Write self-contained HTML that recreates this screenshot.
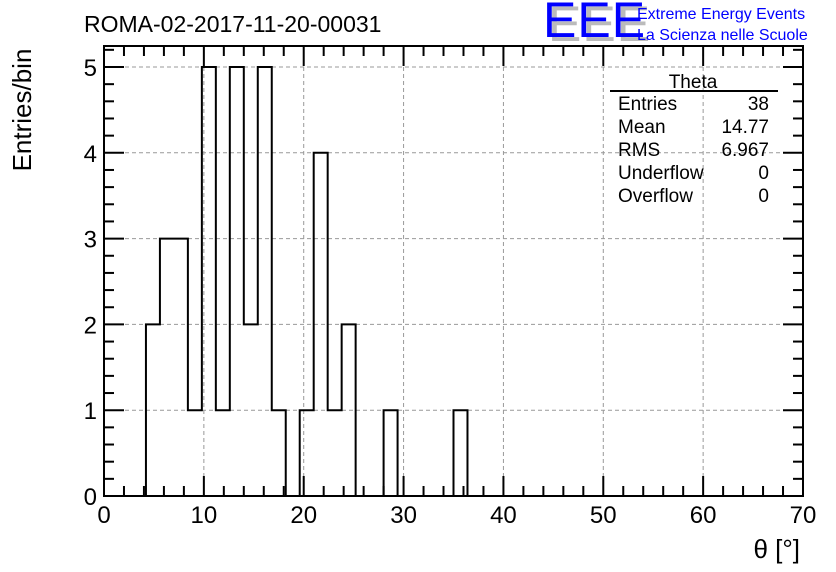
<!DOCTYPE html>
<html><head><meta charset="utf-8"><style>
body{margin:0;background:#fff}
svg{display:block;font-family:"Liberation Sans",sans-serif}
</style></head><body>
<svg id="c" width="836" height="572">
<text x="84" y="32" font-size="23">ROMA-02-2017-11-20-00031</text>
<g>
<text x="548" y="41" font-size="50" fill="#bbb" letter-spacing="1">EEE</text>
<text x="543" y="37" font-size="50" fill="#0000ff" letter-spacing="1">EEE</text>
<text x="637" y="19" font-size="16" fill="#0000ff">Extreme Energy Events</text>
<text x="637" y="40" font-size="16" fill="#0000ff">La Scienza nelle Scuole</text>
</g>
<text transform="translate(31,110) rotate(-90)" text-anchor="middle" font-size="26">Entries/bin</text>
<text x="800" y="558" text-anchor="end" font-size="26">θ [°]</text>
<g id="grid"></g><g id="hist"></g><g id="axes"></g>
<g font-size="19">
<text x="693" y="88" text-anchor="middle">Theta</text>
<line x1="610" y1="91" x2="778" y2="91" stroke="#000" stroke-width="2"/>
<text x="618" y="110">Entries</text><text x="769" y="110" text-anchor="end">38</text>
<text x="618" y="133">Mean</text><text x="769" y="133" text-anchor="end">14.77</text>
<text x="618" y="156">RMS</text><text x="769" y="156" text-anchor="end">6.967</text>
<text x="618" y="179">Underflow</text><text x="769" y="179" text-anchor="end">0</text>
<text x="618" y="202">Overflow</text><text x="769" y="202" text-anchor="end">0</text>
</g>
</svg>
<script>
const binWidth = 1.4;
const binStart = 4.2;
const counts = [2,3,3,1,5,1,5,2,5,1,0,1,4,1,2,0,0,1,0,0,0,0,1];
const xTicks = [0,10,20,30,40,50,60,70];
const yTicks = [0,1,2,3,4,5];
const NS="http://www.w3.org/2000/svg";
const L=104,R=803,B=496,T=46;
const xs=v=>L+(v-0)/70*(R-L);
const ys=v=>B-v*85.8;
function mk(t,a,p){const e=document.createElementNS(NS,t);for(const k in a)e.setAttribute(k,a[k]);p.appendChild(e);return e;}
const grid=document.getElementById('grid'),axes=document.getElementById('axes'),hist=document.getElementById('hist');
xTicks.forEach(v=>{if(v>0&&v<70){const g=mk('line',{x1:xs(v),x2:xs(v),y1:T,y2:B,stroke:'#999','stroke-dasharray':'4,3'},grid);}});
yTicks.forEach(v=>{if(v>0){const g=mk('line',{x1:L,x2:R,y1:ys(v),y2:ys(v),stroke:'#999','stroke-dasharray':'4,3'},grid);}});
let d='M'+xs(binStart)+','+B;
counts.forEach((c,i)=>{const x0=xs(binStart+i*binWidth),x1=xs(binStart+(i+1)*binWidth);d+=' L'+x0+','+ys(c)+' L'+x1+','+ys(c);});
d+=' L'+xs(binStart+counts.length*binWidth)+','+B;
const p=mk('path',{d:d,fill:'none',stroke:'#000','stroke-width':2},hist);


const fr=mk('rect',{x:L,y:T,width:R-L,height:B-T,fill:'none',stroke:'#000','stroke-width':2},axes);


for(let v=0;v<=70;v+=2){const maj=v%10==0,len=maj?20:10;
mk('line',{x1:xs(v),x2:xs(v),y1:B,y2:B-len,stroke:'#000','stroke-width':2},axes);
mk('line',{x1:xs(v),x2:xs(v),y1:T,y2:T+len,stroke:'#000','stroke-width':2},axes);}
for(let k=0;k<=26;k++){const v=k*0.2,maj=k%5==0,len=maj?20:10;if(ys(v)<T)continue;
mk('line',{x1:L,x2:L+len,y1:ys(v),y2:ys(v),stroke:'#000','stroke-width':2},axes);
mk('line',{x1:R,x2:R-len,y1:ys(v),y2:ys(v),stroke:'#000','stroke-width':2},axes);}
xTicks.forEach(v=>{const t=mk('text',{x:xs(v),y:523,'text-anchor':'middle','font-size':24},axes);t.textContent=v;

});
yTicks.forEach(v=>{const t=mk('text',{x:97,y:ys(v)+9,'text-anchor':'end','font-size':24},axes);t.textContent=v;

});
</script>
</body></html>
